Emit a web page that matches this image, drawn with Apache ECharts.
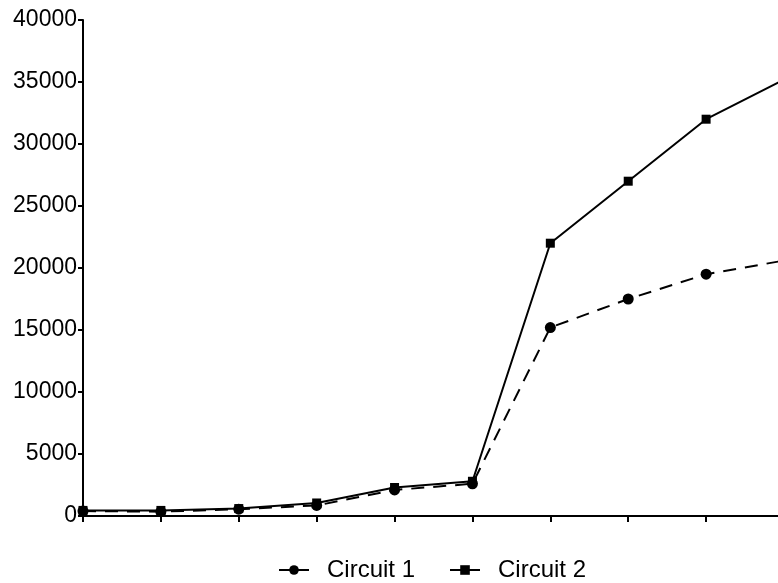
<!DOCTYPE html>
<html>
<head>
<meta charset="utf-8">
<style>
  html, body { margin: 0; padding: 0; background: #fff; overflow: hidden; width: 778px; height: 583px; }
  #chart { width: 790px; height: 583px; }
</style>
<script src="https://cdn.jsdelivr.net/npm/echarts@6/dist/echarts.min.js"></script>
</head>
<body>
<div id="chart"></div>
<script>
const categories = ['1', '2', '3', '4', '5', '6', '7', '8', '9', '10'];
const circuit1 = [400, 350, 550, 850, 2100, 2600, 15200, 17500, 19500, 20600];
const circuit2 = [450, 450, 600, 1050, 2300, 2800, 22000, 27000, 32000, 35200];
const yTicks = { min: 0, max: 40000, interval: 5000 };

const chart = echarts.init(document.getElementById('chart'), null, { renderer: 'canvas' });
const font = 'Liberation Sans, Arial, sans-serif';
chart.setOption({
  animation: false,
  backgroundColor: '#ffffff',
  grid: { left: 83, top: 20, bottom: 67, right: 6, containLabel: false },
  xAxis: {
    type: 'category',
    data: categories,
    boundaryGap: false,
    axisLine: { lineStyle: { color: '#000', width: 2 } },
    axisTick: { show: true, length: 6, lineStyle: { color: '#000', width: 2 } },
    axisLabel: { show: false },
    splitLine: { show: false }
  },
  yAxis: {
    type: 'value',
    min: yTicks.min, max: yTicks.max, interval: yTicks.interval,
    axisLine: { show: true, lineStyle: { color: '#000', width: 2 } },
    axisTick: { show: true, length: 5, lineStyle: { color: '#000', width: 2 } },
    axisLabel: { color: '#000', fontSize: 23, fontFamily: font, margin: 6, formatter: v => String(v) },
    splitLine: { show: false }
  },
  legend: {
    left: 273, top: 553,
    itemWidth: 30, itemHeight: 12, itemGap: 34,
    lineStyle: { type: 'solid', width: 2 },
    textStyle: { color: '#000', fontSize: 24, fontFamily: font, padding: [0, 0, 0, 13] },
    data: ['Circuit 1', 'Circuit 2']
  },
  series: [
    {
      name: 'Circuit 1', type: 'line', data: circuit1,
      symbol: 'circle', symbolSize: 11,
      itemStyle: { color: '#000' },
      lineStyle: { color: '#000', width: 2, type: [13, 9] },
      z: 3
    },
    {
      name: 'Circuit 2', type: 'line', data: circuit2,
      symbol: 'rect', symbolSize: 9,
      itemStyle: { color: '#000' },
      lineStyle: { color: '#000', width: 2, type: 'solid' },
      z: 2
    }
  ]
});
</script>
</body>
</html>
